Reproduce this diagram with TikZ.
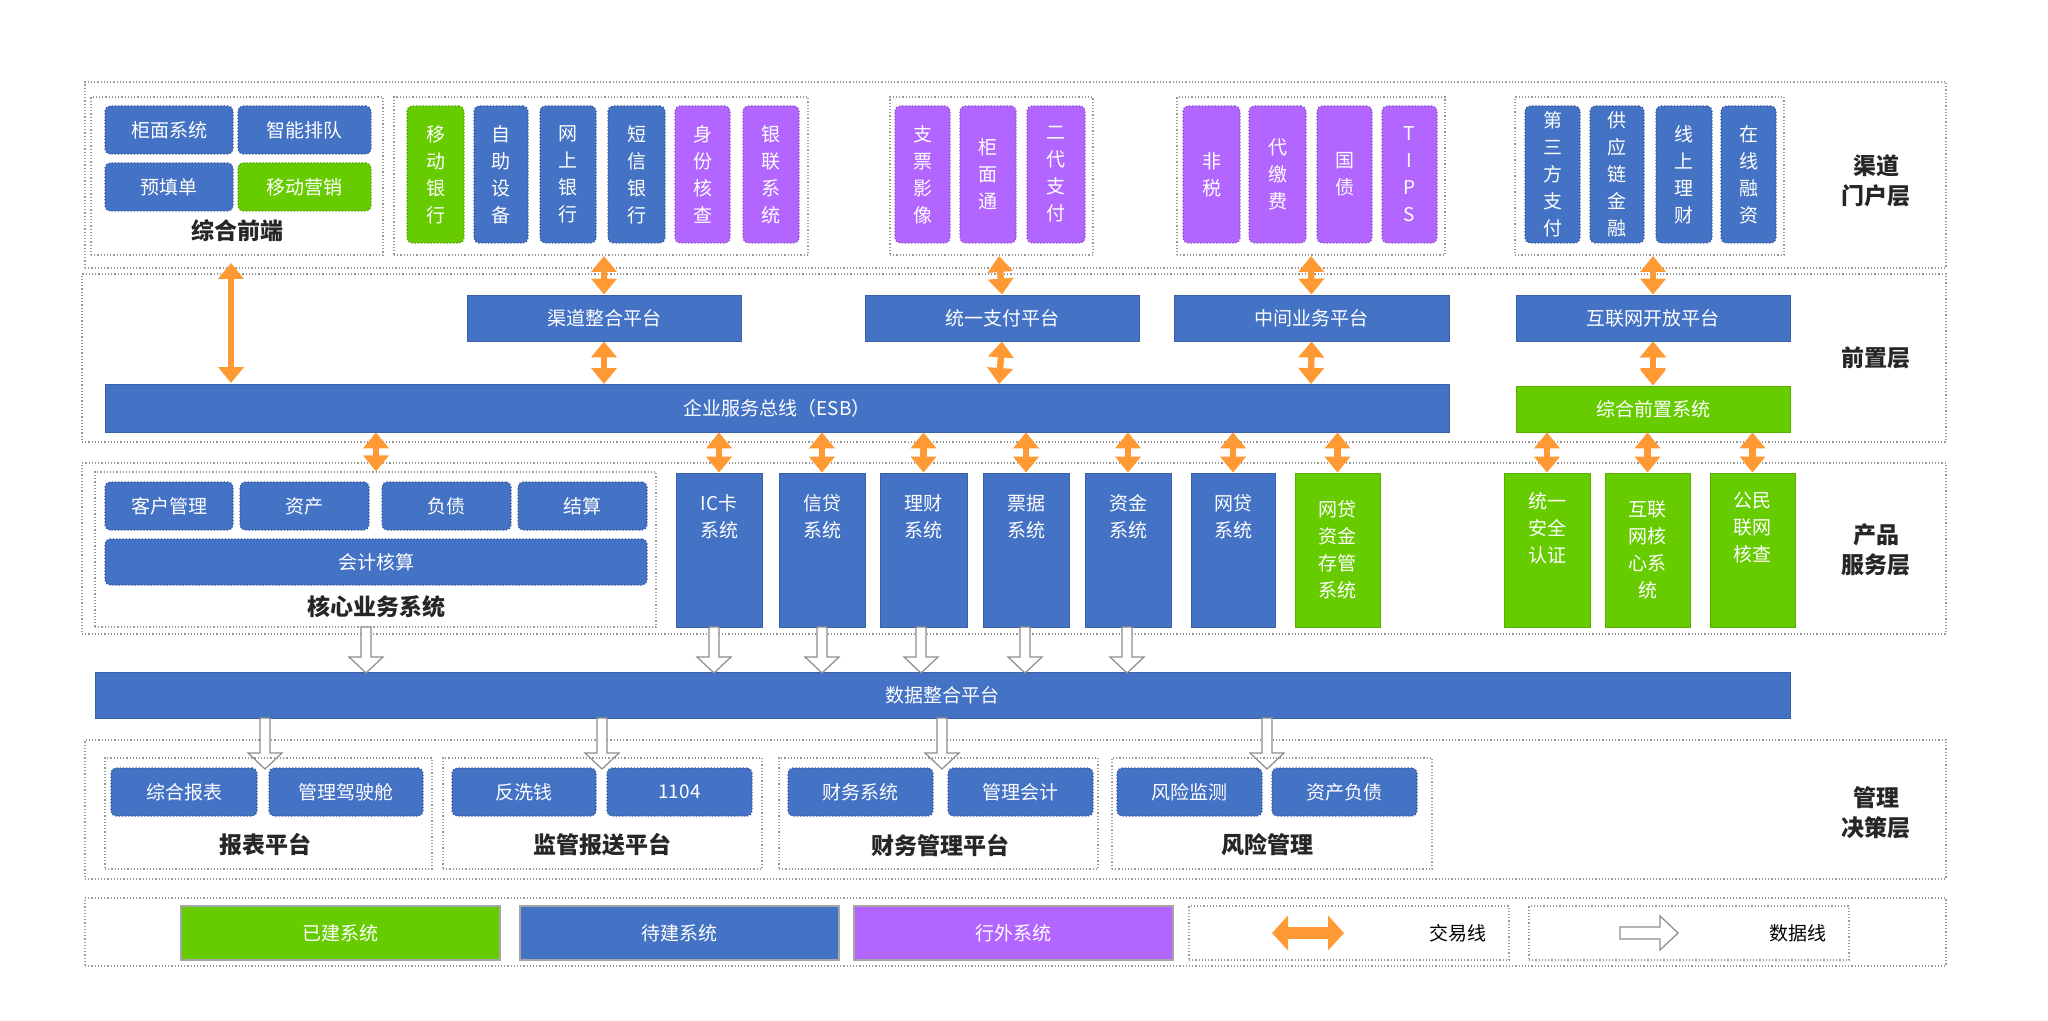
\documentclass[tikz,border=0pt]{standalone}
\usepackage{fontspec}
\setmainfont{Noto Sans CJK SC}
\usetikzlibrary{arrows.meta}
\definecolor{cb}{HTML}{4472C4}
\definecolor{cg}{HTML}{66CC00}
\definecolor{cp}{HTML}{B266FF}
\definecolor{co}{HTML}{FF9933}
\begin{document}
\begin{tikzpicture}[x=0.5pt,y=-0.5pt,
  box/.style={inner sep=0pt,text=white,font=\fontsize{9.5}{13.5}\selectfont,align=center},
  sb/.style={box,rounded corners=2.5pt,draw=#1!75!black,densely dotted,line width=0.6pt,fill=#1},
  pb/.style={box,fill=#1,draw=#1!85!black,line width=0.4pt},
  dbox/.style={draw=gray!80,densely dotted,line width=0.6pt},
  lab/.style={font=\fontsize{11.5}{15}\selectfont\bfseries,text=black!85,align=center},
  oarr/.style={co,line width=3.2pt,{Triangle[length=8pt,width=12.5pt]}-{Triangle[length=8pt,width=12.5pt]},shorten <=0pt},
  garr/.style={draw=gray!90,fill=white,line width=0.6pt}]
\newcommand\B[7]{\node[#1,minimum width={(#5-#3)*0.5pt},minimum height={(#6-#4)*0.5pt}] (#2) at ({(#3+#5)/2},{(#4+#6)/2}) {#7};}
\newcommand\R[5]{\node[dbox,inner sep=0pt,minimum width={(#4-#2)*0.5pt},minimum height={(#5-#3)*0.5pt}] (#1) at ({(#2+#4)/2},{(#3+#5)/2}) {};}
\newcommand\darr[3]{\draw[garr] ({#1-5},#2) -- ({#1-5},{#3-16}) -- ({#1-17},{#3-16}) -- (#1,#3) -- ({#1+17},{#3-16}) -- ({#1+5},{#3-16}) -- ({#1+5},#2) -- cycle;}
\useasboundingbox (0,0) rectangle (2048,1021);
% layer frames
\R{L1}{85}{82}{1946}{268}
\R{L2}{82}{274}{1946}{442}
\R{L3}{82}{463}{1946}{634}
\R{L4}{85}{740}{1946}{879}
\R{L5}{85}{898}{1946}{966}
\node[lab] at (1876,181) {渠道\\门户层};
\node[lab] at (1876,358) {前置层};
\node[lab] at (1876,550) {产品\\服务层};
\node[lab] at (1876,813) {管理\\决策层};
% channel layer
\R{g1}{91}{97}{383}{255}
\R{g2}{394}{97}{808}{255}
\R{g3}{890}{97}{1093}{255}
\R{g4}{1177}{97}{1445}{255}
\R{g5}{1515}{97}{1784}{255}
\B{sb=cb}{a1}{105}{106}{233}{154}{柜面系统}
\B{sb=cb}{a2}{238}{106}{371}{154}{智能排队}
\B{sb=cb}{a3}{105}{163}{233}{211}{预填单}
\B{sb=cg}{a4}{238}{163}{371}{211}{移动营销}
\node[lab] at (237,231) {综合前端};
\B{sb=cg}{c1}{407}{106}{464}{243}{移\\动\\银\\行}
\B{sb=cb}{c2}{474}{106}{528}{243}{自\\助\\设\\备}
\B{sb=cb}{c3}{540}{106}{596}{243}{网\\上\\银\\行}
\B{sb=cb}{c4}{608}{106}{665}{243}{短\\信\\银\\行}
\B{sb=cp}{c5}{675}{106}{730}{243}{身\\份\\核\\查}
\B{sb=cp}{c6}{743}{106}{799}{243}{银\\联\\系\\统}
\B{sb=cp}{d1}{895}{106}{950}{243}{支\\票\\影\\像}
\B{sb=cp}{d2}{960}{106}{1016}{243}{柜\\面\\通}
\B{sb=cp}{d3}{1027}{106}{1085}{243}{二\\代\\支\\付}
\B{sb=cp}{e1}{1183}{106}{1240}{243}{非\\税}
\B{sb=cp}{e2}{1249}{106}{1306}{243}{代\\缴\\费}
\B{sb=cp}{e3}{1317}{106}{1372}{243}{国\\债}
\B{sb=cp}{e4}{1382}{106}{1437}{243}{T\\I\\P\\S}
\B{sb=cb}{f1}{1525}{106}{1580}{243}{第\\三\\方\\支\\付}
\B{sb=cb}{f2}{1590}{106}{1644}{243}{供\\应\\链\\金\\融}
\B{sb=cb}{f3}{1656}{106}{1712}{243}{线\\上\\理\\财}
\B{sb=cb}{f4}{1721}{106}{1776}{243}{在\\线\\融\\资}
% front layer
\B{pb=cb}{p1}{467}{295}{741}{341}{渠道整合平台}
\B{pb=cb}{p2}{865}{295}{1139}{341}{统一支付平台}
\B{pb=cb}{p3}{1174}{295}{1449}{341}{中间业务平台}
\B{pb=cb}{p4}{1516}{295}{1790}{341}{互联网开放平台}
\B{pb=cb}{esb}{105}{384}{1449}{432}{企业服务总线（ESB）}
\B{pb=cg}{zq}{1516}{386}{1790}{432}{综合前置系统}
\coordinate (t0) at (231,263); \coordinate (b0) at (231,383);
\draw[oarr] (t0) -- (b0);
\foreach \n/\x in {p1/604,p2/999,p3/1311,p4/1653}{
  \draw[oarr] (\x,256) -- (\n.north);
  \draw[oarr] (\n.south) -- (\x,384);}
\draw[oarr] (p4.south) -- (zq.north);
% product layer
\R{core}{95}{472}{656}{627}
\B{sb=cb}{k1}{105}{482}{233}{530}{客户管理}
\B{sb=cb}{k2}{240}{482}{369}{530}{资产}
\B{sb=cb}{k3}{382}{482}{511}{530}{负债}
\B{sb=cb}{k4}{518}{482}{647}{530}{结算}
\B{sb=cb}{k5}{105}{539}{647}{585}{会计核算}
\node[lab] at (376,607) {核心业务系统};
\B{pb=cb}{s1}{676}{473}{762}{627}{IC卡\\系统\\[2.2em]}
\B{pb=cb}{s2}{779}{473}{865}{627}{信贷\\系统\\[2.2em]}
\B{pb=cb}{s3}{880}{473}{967}{627}{理财\\系统\\[2.2em]}
\B{pb=cb}{s4}{983}{473}{1069}{627}{票据\\系统\\[2.2em]}
\B{pb=cb}{s5}{1085}{473}{1171}{627}{资金\\系统\\[2.2em]}
\B{pb=cb}{s6}{1191}{473}{1275}{627}{网贷\\系统\\[2.2em]}
\B{pb=cg}{s7}{1295}{473}{1380}{627}{网贷\\资金\\存管\\系统}
\B{pb=cg}{r1}{1504}{473}{1590}{627}{统一\\安全\\认证\\[1em]}
\B{pb=cg}{r2}{1605}{473}{1690}{627}{互联\\网核\\心系\\统}
\B{pb=cg}{r3}{1710}{473}{1795}{627}{公民\\联网\\核查\\[1em]}
\draw[oarr] (esb.south -| 376,0) -- (core.north -| 376,0);
\foreach \n in {s1,s2,s3,s4,s5,s6,s7}{\draw[oarr] (esb.south -| \n.north) -- (\n.north);}
\foreach \n in {r1,r2,r3}{\draw[oarr] (zq.south -| \n.north) -- (\n.north);}
% data platform
\B{pb=cb}{data}{95}{672}{1790}{718}{数据整合平台}
\foreach \x in {366,714,822,921,1025,1127}{\darr{\x}{627}{673}}
\foreach \x in {265,602,942,1267}{\darr{\x}{718}{769}}
% management layer
\R{m1}{105}{758}{432}{869}
\R{m2}{443}{758}{762}{869}
\R{m3}{779}{758}{1098}{869}
\R{m4}{1112}{758}{1432}{869}
\B{sb=cb}{n1}{111}{768}{257}{816}{综合报表}
\B{sb=cb}{n2}{269}{768}{423}{816}{管理驾驶舱}
\B{sb=cb}{n3}{452}{768}{596}{816}{反洗钱}
\B{sb=cb}{n4}{607}{768}{752}{816}{1104}
\B{sb=cb}{n5}{788}{768}{933}{816}{财务系统}
\B{sb=cb}{n6}{948}{768}{1093}{816}{管理会计}
\B{sb=cb}{n7}{1117}{768}{1262}{816}{风险监测}
\B{sb=cb}{n8}{1272}{768}{1417}{816}{资产负债}
\node[lab] at (265,845) {报表平台};
\node[lab] at (602,845) {监管报送平台};
\node[lab] at (940,845) {财务管理平台};
\node[lab] at (1267,845) {风险管理};
% legend
\B{pb=cg,draw=gray!70,line width=0.8pt}{l1}{181}{906}{500}{960}{已建系统}
\B{pb=cb,draw=gray!70,line width=0.8pt}{l2}{520}{906}{839}{960}{待建系统}
\B{pb=cp,draw=gray!70,line width=0.8pt}{l3}{854}{906}{1173}{960}{行外系统}
\R{l4}{1189}{906}{1509}{960}
\R{l5}{1529}{906}{1849}{960}
\coordinate (h1) at (1272,933); \coordinate (h2) at (1344,933);
\draw[co,line width=6pt,{Triangle[length=8pt,width=17pt]}-{Triangle[length=8pt,width=17pt]}] (h1) -- (h2);
\node[font=\fontsize{9.5}{12}\selectfont] at (1458,933) {交易线};
\draw[garr] (1620,927) -- (1660,927) -- (1660,916) -- (1678,933) -- (1660,950) -- (1660,939) -- (1620,939) -- cycle;
\node[font=\fontsize{9.5}{12}\selectfont] at (1798,933) {数据线};
\end{tikzpicture}
\end{document}
